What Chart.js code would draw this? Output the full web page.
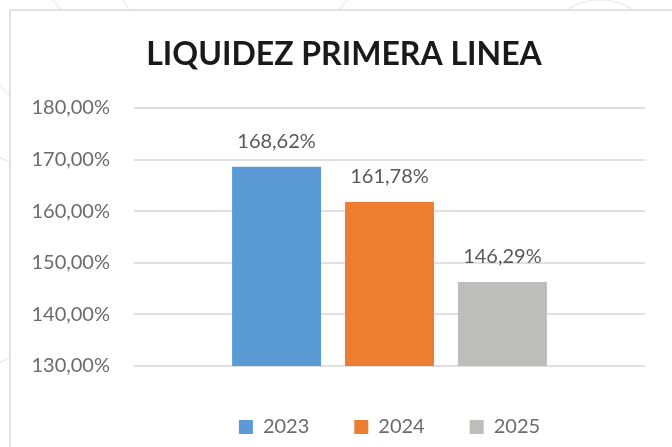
<!DOCTYPE html>
<html>
<head>
<meta charset="utf-8">
<script src="https://cdn.jsdelivr.net/npm/chart.js@4/dist/chart.umd.min.js"></script>
<style>
  html, body { margin: 0; padding: 0; background: #ffffff; }
  #wrap { width: 672px; height: 447px; position: relative; }
</style>
</head>
<body>
<div id="wrap"><canvas id="c" width="672" height="447"></canvas></div>
<script>
const titleText = 'LIQUIDEZ PRIMERA LINEA';
const categories = [''];
const seriesNames = ['2023', '2024', '2025'];
const seriesValues = [[168.62], [161.78], [146.29]];
const seriesColors = ['#5B9BD5', '#ED7D31', '#BDBDBC'];
const yMin = 130, yMax = 180, yStep = 10;

const fmt = v => v.toFixed(2).replace('.', ',') + '%';

const bgPlugin = {
  id: 'bg',
  beforeDraw(chart) {
    const ctx = chart.ctx;
    ctx.save();
    ctx.fillStyle = '#ffffff';
    ctx.fillRect(0, 0, chart.width, chart.height);
    // faint decorative arcs in the background
    ctx.strokeStyle = '#eeeeee';
    ctx.lineWidth = 1.5;
    const arcs = [[200, -120, 190], [-40, 260, 110], [600, 60, 60], [60, 40, 75]];
    arcs.forEach(a => { ctx.beginPath(); ctx.arc(a[0], a[1], a[2], 0, Math.PI * 2); ctx.stroke(); });
    // white frame interior
    ctx.fillStyle = '#ffffff';
    ctx.fillRect(10, 10, chart.width, chart.height);
    ctx.strokeStyle = '#d9d9d9';
    ctx.lineWidth = 1.5;
    ctx.strokeRect(10, 10, chart.width + 20, chart.height + 20);
    ctx.restore();
  }
};

const titlePlugin = {
  id: 'frameTitle',
  afterDraw(chart) {
    const ctx = chart.ctx;
    ctx.save();
    ctx.font = 'bold 32px Lato';
    ctx.fillStyle = '#1a1a1a';
    ctx.textAlign = 'center';
    ctx.textBaseline = 'middle';
    ctx.fillText(titleText, 344, 55);
    ctx.restore();
  }
};

const labelPlugin = {
  id: 'valueLabels',
  afterDatasetsDraw(chart) {
    const ctx = chart.ctx;
    ctx.save();
    ctx.font = '20px Lato';
    ctx.fillStyle = '#595959';
    ctx.textAlign = 'center';
    ctx.textBaseline = 'middle';
    chart.data.datasets.forEach((ds, i) => {
      const meta = chart.getDatasetMeta(i);
      meta.data.forEach((bar, j) => {
        ctx.fillText(fmt(ds.data[j]), bar.x, bar.y - 25);
      });
    });
    ctx.restore();
  }
};

new Chart(document.getElementById('c'), {
  type: 'bar',
  data: {
    labels: categories,
    datasets: seriesNames.map((n, i) => ({
      label: n,
      data: seriesValues[i],
      backgroundColor: seriesColors[i],
      borderWidth: 0,
      categoryPercentage: 0.663,
      barPercentage: 0.788
    }))
  },
  options: {
    responsive: false,
    animation: false,
    devicePixelRatio: 1,
    layout: { padding: { left: 10, right: 27, top: 108, bottom: 0 } },
    scales: {
      x: {
        ticks: { display: false },
        grid: { display: false },
        border: { display: false },
        afterFit(s) { s.height = 6; }
      },
      y: {
        min: yMin, max: yMax,
        ticks: {
          stepSize: yStep,
          padding: 24,
          color: '#6b6b6b',
          font: { family: 'Lato', size: 20 },
          callback: v => fmt(v)
        },
        grid: { color: '#e0e0e0', lineWidth: 2, drawTicks: false },
        border: { display: false },
        afterFit(s) { s.width = 124; }
      }
    },
    plugins: {
      title: { display: false },
      legend: {
        position: 'bottom',
        fullSize: false,
        maxHeight: 79,
        labels: {
          boxWidth: 14,
          boxHeight: 14,
          padding: 45,
          color: '#6b6b6b',
          font: { family: 'Lato', size: 20 }
        }
      },
      tooltip: { enabled: false }
    }
  },
  plugins: [bgPlugin, labelPlugin, titlePlugin]
});
</script>
</body>
</html>
